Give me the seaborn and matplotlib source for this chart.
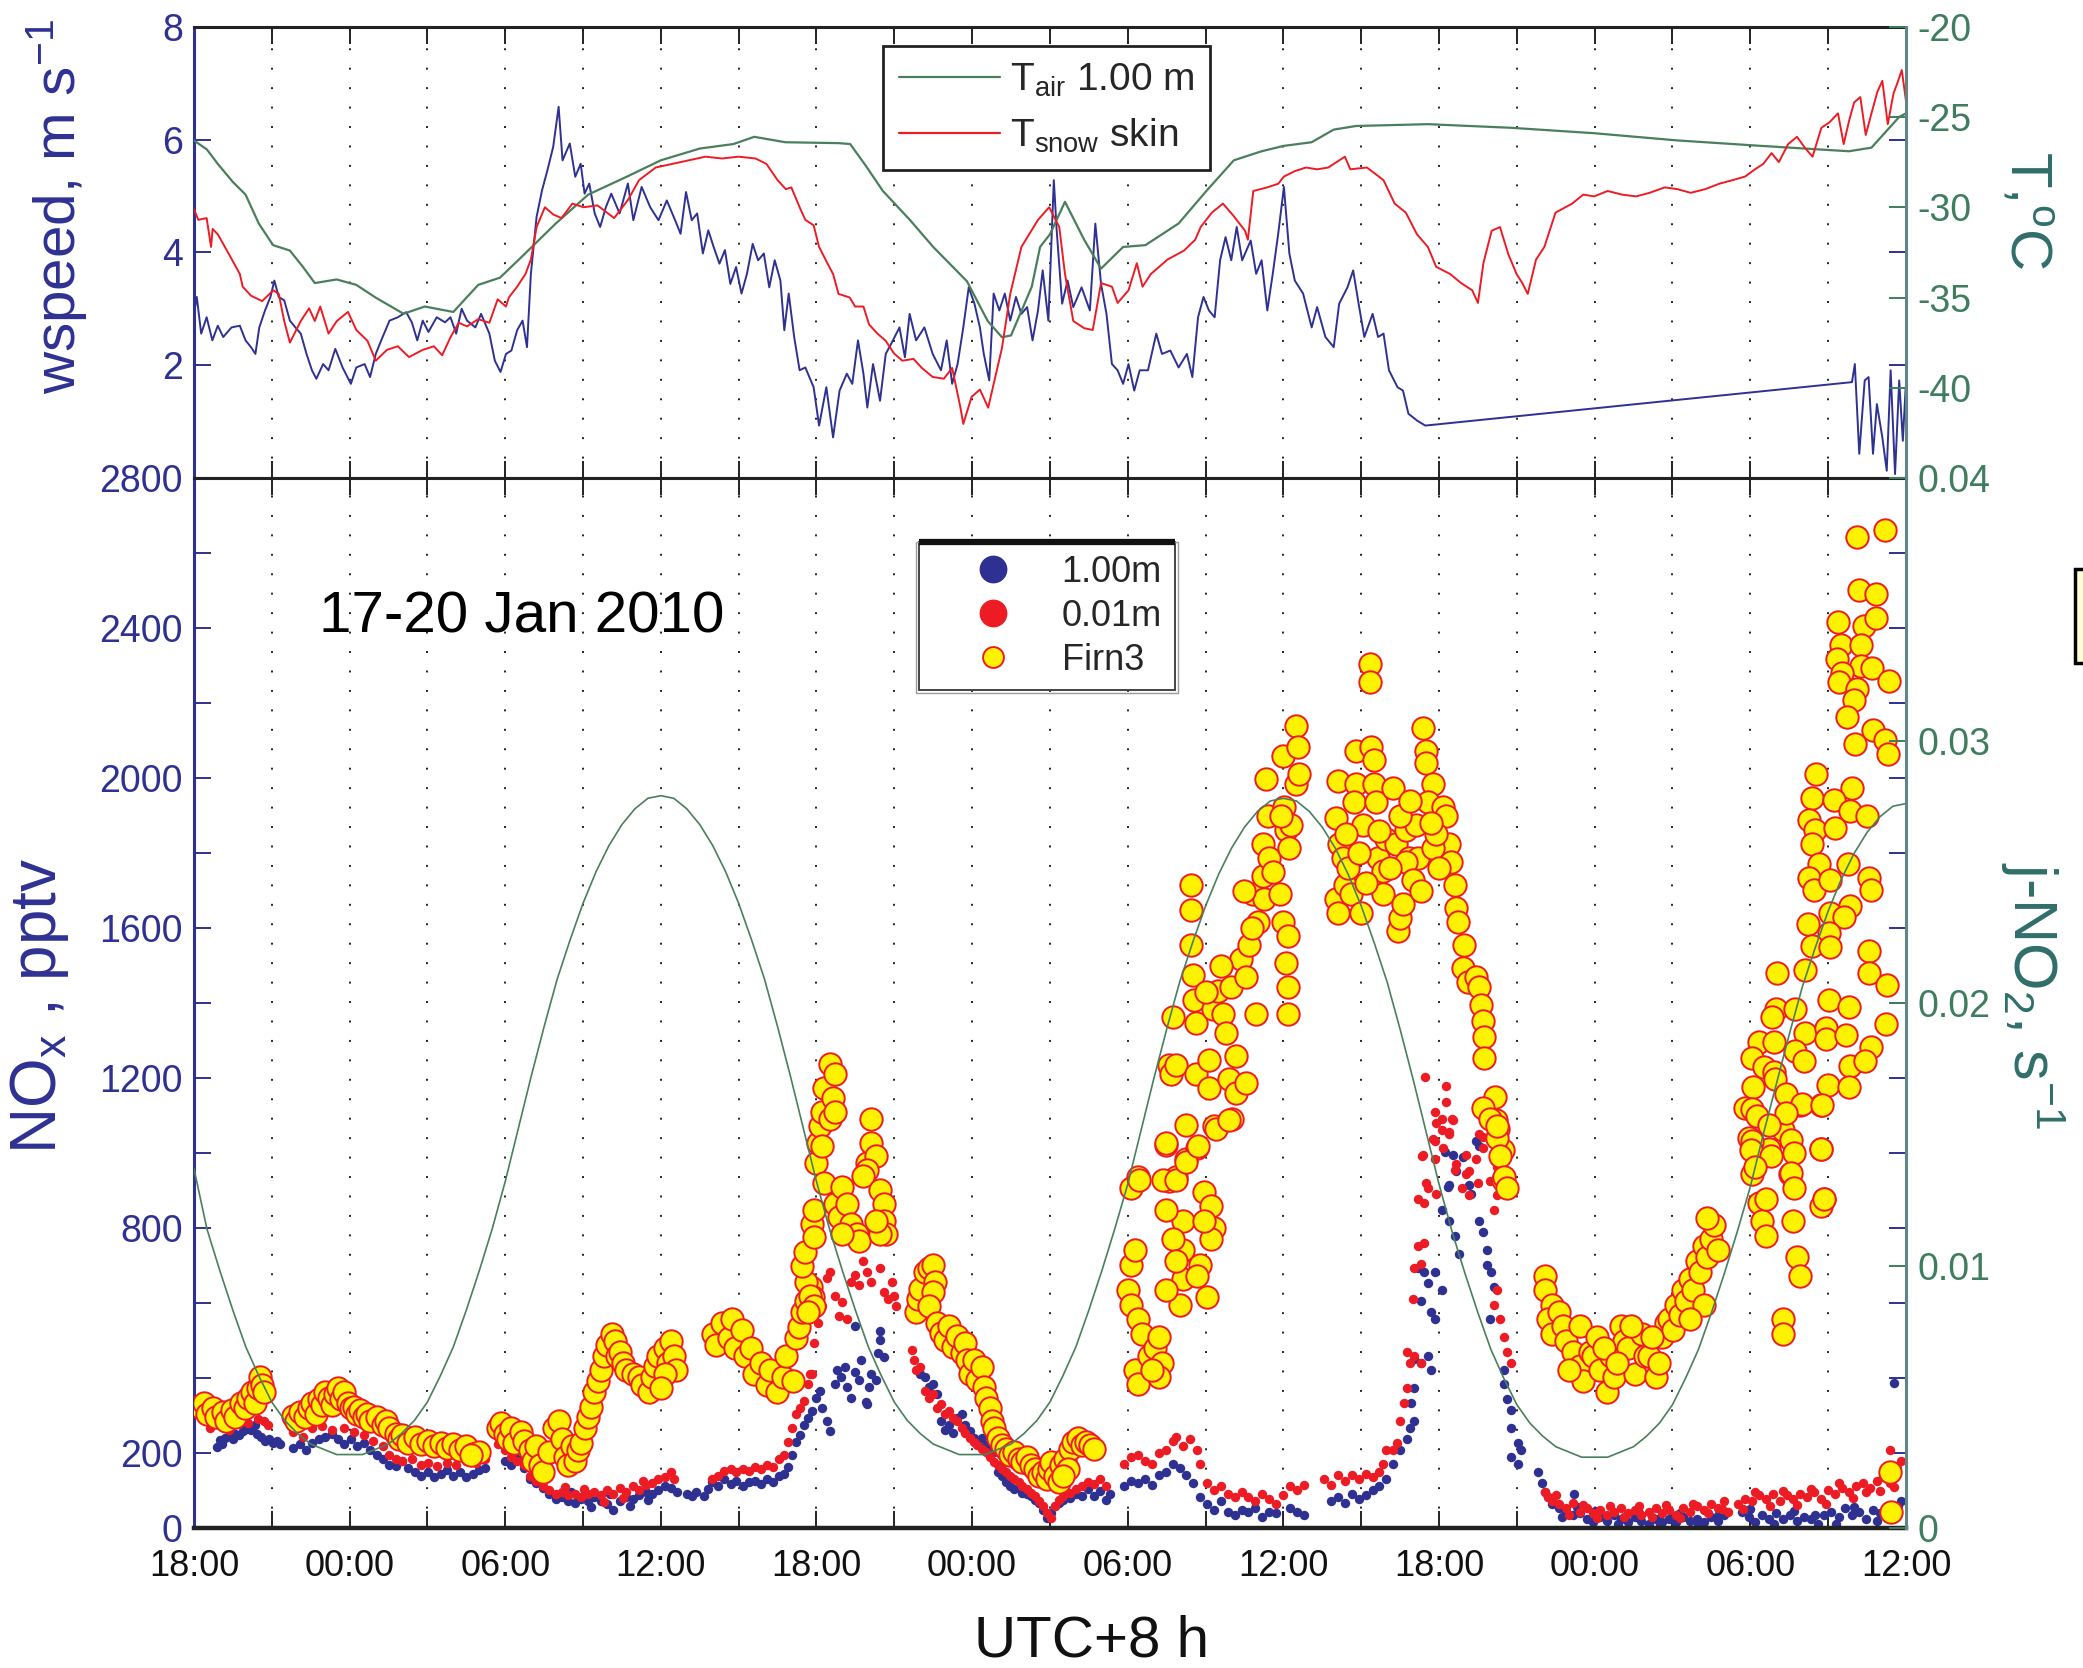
import matplotlib
matplotlib.use("Agg")
import matplotlib.pyplot as plt
import seaborn as sns
from matplotlib.lines import Line2D
from matplotlib.patches import Rectangle

# Time axis: hours after 17 Jan 2010 18:00 (UTC+8)

# ---------------- upper panel ----------------
# wind speed at 1 m, m/s
wind_pts = [
    (0.0, 2.91), (0.11, 3.21), (0.28, 2.56), (0.49, 2.85), (0.71, 2.44), (0.92, 2.70), (1.13, 2.50),
    (1.45, 2.67), (1.77, 2.70), (1.99, 2.44), (2.2, 2.32), (2.37, 2.20), (2.52, 2.67), (2.74, 2.97),
    (2.95, 3.21), (3.1, 3.50), (3.27, 3.21), (3.48, 3.15), (3.7, 2.79), (3.91, 2.67), (4.12, 2.56),
    (4.34, 2.20), (4.55, 1.91), (4.72, 1.76), (4.98, 2.02), (5.19, 1.91), (5.45, 2.29), (5.73, 1.96),
    (6.05, 1.67), (6.26, 1.96), (6.58, 2.02), (6.79, 1.79), (7.01, 2.20), (7.22, 2.44), (7.54, 2.79),
    (7.86, 2.85), (8.18, 2.94), (8.4, 2.76), (8.61, 2.44), (8.82, 2.79), (9.04, 2.59), (9.36, 2.85),
    (9.68, 2.76), (9.89, 2.85), (10.11, 2.56), (10.32, 3.00), (10.53, 2.79), (10.85, 2.67), (11.07, 2.91),
    (11.39, 2.56), (11.6, 2.08), (11.82, 1.88), (12.03, 2.20), (12.24, 2.26), (12.46, 2.62), (12.67, 2.79),
    (12.84, 2.32), (12.99, 3.62), (13.21, 4.63), (13.42, 5.10), (13.63, 5.46), (13.85, 5.87), (14.06, 6.58),
    (14.21, 5.63), (14.49, 5.93), (14.7, 5.34), (14.91, 5.57), (15.06, 5.04), (15.24, 5.22), (15.45, 4.69),
    (15.66, 4.45), (15.88, 4.80), (16.09, 5.04), (16.41, 4.69), (16.73, 5.22), (16.94, 4.57), (17.26, 5.16),
    (17.59, 4.80), (17.91, 4.57), (18.23, 4.92), (18.55, 4.57), (18.76, 4.33), (18.97, 5.07), (19.19, 4.57),
    (19.4, 4.69), (19.62, 3.98), (19.83, 4.39), (20.04, 4.09), (20.26, 3.80), (20.47, 4.04), (20.68, 3.44),
    (20.9, 3.74), (21.11, 3.27), (21.32, 3.62), (21.54, 4.15), (21.75, 3.86), (21.97, 3.98), (22.18, 3.38),
    (22.39, 3.86), (22.61, 3.50), (22.76, 2.62), (22.93, 3.27), (23.14, 2.50), (23.35, 1.91), (23.57, 1.96),
    (23.89, 1.61), (24.1, 0.93), (24.38, 1.61), (24.64, 0.72), (24.89, 1.55), (25.17, 1.85), (25.38, 1.67),
    (25.6, 2.44), (25.81, 1.85), (25.96, 1.25), (26.18, 2.02), (26.45, 1.37), (26.67, 2.20), (26.88, 2.38),
    (27.2, 2.67), (27.41, 2.14), (27.59, 2.91), (27.84, 2.44), (28.16, 2.67), (28.48, 2.20), (28.8, 1.91),
    (29.02, 2.44), (29.23, 1.67), (29.44, 2.02), (29.66, 2.67), (29.87, 3.38), (30.09, 3.09), (30.3, 2.67),
    (30.45, 2.20), (30.66, 1.73), (30.83, 3.27), (31.05, 2.97), (31.26, 3.27), (31.47, 2.79), (31.69, 3.21),
    (31.9, 2.91), (32.12, 3.03), (32.33, 2.44), (32.54, 2.97), (32.72, 3.68), (32.94, 2.79), (33.15, 5.28),
    (33.26, 4.39), (33.47, 3.09), (33.68, 3.50), (33.9, 3.03), (34.22, 3.38), (34.54, 2.97), (34.75, 4.51),
    (34.97, 3.44), (35.18, 2.91), (35.39, 2.02), (35.61, 1.91), (35.82, 1.67), (36.03, 2.02), (36.25, 1.55),
    (36.46, 1.91), (36.78, 1.91), (37.1, 2.56), (37.32, 2.20), (37.64, 2.26), (37.96, 1.96), (38.28, 2.20),
    (38.49, 1.79), (38.71, 2.85), (38.92, 3.21), (39.13, 2.97), (39.35, 2.85), (39.56, 3.86), (39.77, 4.27),
    (39.99, 3.86), (40.2, 4.45), (40.41, 3.86), (40.74, 4.21), (40.95, 3.62), (41.16, 3.86), (41.38, 2.97),
    (41.59, 3.62), (41.8, 4.33), (42.02, 5.16), (42.23, 3.98), (42.44, 3.50), (42.76, 3.27), (43.09, 2.67),
    (43.3, 3.03), (43.62, 2.50), (43.94, 2.32), (44.15, 3.09), (44.47, 3.38), (44.69, 3.68), (44.9, 3.09),
    (45.12, 2.50), (45.44, 2.91), (45.65, 2.50), (45.86, 2.56), (46.07, 1.91), (46.4, 1.61), (46.61, 1.55),
    (46.82, 1.14), (47.15, 1.02), (47.47, 0.93),
    (63.92, 1.70), (64.03, 2.02), (64.2, 0.43), (64.41, 1.73), (64.56, 1.79), (64.73, 0.43), (64.88, 1.31),
    (65.09, 0.72), (65.26, 0.13), (65.41, 1.91), (65.58, 0.07), (65.74, 1.73), (65.88, 0.66), (65.99, 1.61),
]

# air temperature at 1.00 m, deg C
t_air_pts = [
    (0.0, -26.3), (0.5, -26.8), (0.92, -27.6), (1.5, -28.6), (1.99, -29.3), (2.5, -30.9), (3.05, -32.1),
    (3.7, -32.4), (4.2, -33.3), (4.66, -34.2), (5.5, -34.0), (6.26, -34.3), (7.0, -35.0), (8.08, -35.9),
    (8.9, -35.5), (10.0, -35.8), (10.96, -34.3), (11.8, -33.9), (12.67, -32.7), (13.95, -30.9),
    (15.2, -29.3), (16.7, -28.3), (18.0, -27.4), (19.5, -26.75), (20.8, -26.5), (21.6, -26.1),
    (22.8, -26.4), (24.85, -26.45), (25.3, -26.5), (25.9, -27.7), (26.56, -29.1), (27.6, -30.7),
    (28.5, -32.2), (29.8, -34.1), (30.6, -36.3), (31.15, -37.2), (31.5, -37.1), (32.3, -34.4),
    (32.62, -32.2), (33.0, -31.5), (33.58, -29.7), (34.32, -31.8), (34.97, -33.4), (35.82, -32.2),
    (36.68, -32.1), (37.96, -30.9), (39.03, -29.1), (40.09, -27.4), (41.16, -26.9), (42.02, -26.6),
    (43.09, -26.4), (43.94, -25.7), (44.8, -25.5), (47.57, -25.4), (50.78, -25.6), (53.98, -25.9),
    (57.19, -26.3), (60.4, -26.6), (63.8, -26.9), (64.67, -26.7), (65.74, -25.0), (66.0, -24.8),
]

# snow skin temperature, deg C
t_snow_pts = [
    (0.0, -30.1), (0.17, -30.7), (0.49, -30.6), (0.66, -32.2), (0.72, -31.2), (0.92, -31.5), (1.35, -32.6),
    (1.77, -33.7), (1.88, -34.4), (2.2, -34.9), (2.63, -35.2), (3.06, -34.6), (3.27, -34.8), (3.48, -36.3),
    (3.7, -37.5), (4.12, -36.3), (4.44, -35.6), (4.66, -36.3), (4.87, -35.5), (5.19, -37.0), (5.51, -36.3),
    (5.94, -35.8), (6.26, -36.8), (6.69, -37.4), (7.01, -38.5), (7.44, -37.9), (7.86, -37.7), (8.29, -38.3),
    (8.82, -37.9), (9.25, -37.7), (9.57, -38.2), (9.89, -37.2), (10.21, -36.4), (10.53, -36.6),
    (10.96, -36.2), (11.39, -36.4), (11.71, -35.1), (12.03, -35.5), (12.14, -35.0), (12.46, -34.4),
    (12.78, -33.7), (12.99, -32.9), (13.21, -31.1), (13.53, -30.0), (13.85, -30.4), (14.17, -30.6),
    (14.59, -29.8), (15.02, -30.0), (15.56, -29.9), (16.2, -30.6), (16.73, -29.6), (17.16, -28.5),
    (17.8, -27.8), (18.44, -27.6), (19.08, -27.4), (19.72, -27.2), (20.36, -27.3), (21.0, -27.2),
    (21.65, -27.3), (22.07, -27.6), (22.5, -28.5), (22.82, -29.0), (23.03, -28.9), (23.35, -30.0),
    (23.57, -30.7), (23.89, -31.0), (24.1, -32.2), (24.42, -33.1), (24.64, -33.7), (24.85, -34.8),
    (25.28, -35.0), (25.49, -35.5), (25.81, -35.5), (26.03, -36.5), (26.35, -37.0), (26.67, -37.4),
    (26.99, -38.1), (27.31, -38.5), (27.74, -38.4), (28.06, -38.9), (28.48, -39.4), (28.91, -39.5),
    (29.23, -38.9), (29.55, -41.1), (29.66, -42.0), (29.98, -40.5), (30.3, -40.1), (30.62, -41.1),
    (30.83, -39.8), (31.15, -37.8), (31.47, -34.8), (31.9, -32.2), (32.54, -30.7), (32.97, -30.0),
    (33.36, -31.1), (33.58, -33.7), (33.9, -36.3), (34.32, -36.7), (34.65, -36.8), (34.97, -34.2),
    (35.39, -34.4), (35.61, -35.3), (36.03, -34.6), (36.35, -33.1), (36.57, -34.4), (36.89, -33.7),
    (37.53, -32.9), (38.17, -32.4), (38.6, -31.8), (38.81, -31.1), (39.24, -30.3), (39.67, -29.8),
    (40.09, -30.5), (40.52, -31.3), (40.63, -31.8), (40.84, -29.1), (41.38, -28.9), (41.8, -28.7),
    (42.02, -28.3), (42.44, -28.0), (42.87, -27.8), (43.3, -27.9), (43.73, -27.8), (44.37, -27.2),
    (44.58, -27.9), (45.22, -27.8), (45.86, -28.5), (46.29, -29.8), (46.72, -30.3), (47.15, -31.5),
    (47.57, -32.2), (47.89, -33.3), (48.43, -33.7), (48.85, -34.2), (49.28, -34.6), (49.5, -35.3),
    (49.71, -33.1), (50.03, -31.3), (50.35, -31.1), (50.67, -32.6), (50.99, -33.7), (51.21, -34.2),
    (51.42, -34.8), (51.74, -32.9), (52.06, -32.2), (52.49, -30.3), (53.13, -29.8), (53.56, -29.3),
    (53.98, -29.4), (54.5, -29.1), (55.05, -29.3), (55.6, -29.4), (56.12, -29.2), (56.7, -28.9),
    (57.19, -29.0), (57.7, -29.2), (58.26, -29.0), (58.8, -28.7), (59.32, -28.5), (59.8, -28.3),
    (60.18, -27.9), (60.5, -27.6), (60.82, -27.0), (61.1, -27.5), (61.46, -26.5), (61.8, -26.1),
    (62.1, -26.7), (62.4, -27.2), (62.74, -25.6), (63.05, -25.3), (63.38, -24.8), (63.6, -26.5),
    (63.81, -25.2), (64.0, -24.2), (64.24, -23.9), (64.45, -26.0), (64.67, -24.8), (64.9, -23.6),
    (65.09, -23.0), (65.3, -25.4), (65.52, -23.7), (65.7, -23.0), (65.84, -22.4), (66.0, -24.1),
]

# ---------------- lower panel ----------------
# NOx at 1.00 m inlet, pptv
nox_1m_pts = [
    (0.9, 215), (1.0, 235), (1.1, 225), (1.2, 240), (1.35, 245), (1.5, 238), (1.6, 250), (1.75, 248),
    (1.9, 258), (2.0, 265), (2.1, 272), (2.2, 262), (2.35, 276), (2.45, 250), (2.6, 242), (2.75, 232),
    (2.9, 238), (3.05, 228), (3.2, 232), (3.3, 225),
    (3.83, 213), (4.07, 223), (4.32, 208), (4.57, 227), (4.81, 237), (5.06, 242), (5.31, 252), (5.56, 237),
    (5.8, 223), (6.05, 237), (6.3, 218), (6.54, 228), (6.79, 208), (7.04, 194), (7.28, 184), (7.53, 169),
    (7.78, 165), (8.02, 179), (8.27, 160), (8.52, 150), (8.77, 140), (9.01, 150), (9.26, 136), (9.51, 145),
    (9.75, 155), (10.0, 140), (10.25, 150), (10.49, 136), (10.74, 145), (10.99, 155), (11.23, 160),
    (11.98, 179), (12.22, 169), (12.47, 184), (12.72, 160), (12.96, 131), (13.2, 121), (13.46, 106),
    (13.7, 92), (13.95, 77), (14.2, 82), (14.44, 73), (14.55, 95), (14.69, 68), (14.94, 77), (15.19, 73),
    (15.3, 55), (15.43, 82), (15.68, 73), (15.93, 63), (16.05, 90), (16.17, 48), (16.42, 73), (16.67, 82),
    (16.8, 60), (16.91, 77), (17.16, 87), (17.41, 97), (17.5, 75), (17.65, 92), (17.9, 102), (18.15, 111),
    (18.4, 106), (18.64, 97), (19.0, 92), (19.2, 85), (19.35, 95),
    (19.66, 85), (19.8, 103), (19.98, 122), (20.2, 113), (20.45, 131), (20.7, 117), (20.9, 126),
    (21.16, 113), (21.4, 122), (21.63, 126), (21.87, 117), (22.1, 131), (22.34, 122), (22.57, 140),
    (22.73, 144), (22.9, 162), (23.05, 194), (23.2, 230), (23.36, 249), (23.5, 276), (23.68, 294),
    (23.83, 312), (24.0, 348), (24.15, 366), (24.23, 321), (24.4, 285), (24.54, 258), (24.7, 385),
    (24.78, 421), (24.94, 403), (25.1, 430), (25.17, 376), (25.33, 348), (25.49, 416), (25.65, 394),
    (25.72, 448), (25.9, 335), (26.04, 376), (26.1, 412), (26.28, 394), (26.43, 525), (26.43, 502),
    (26.6, 457), (26.36, 466), (25.49, 539), (25.96, 330),
    (28.0, 412), (28.17, 403), (28.32, 376), (28.48, 385), (28.64, 357), (28.8, 285), (28.95, 262),
    (29.1, 276), (29.27, 253), (29.43, 294), (29.6, 303), (29.74, 276), (29.9, 258), (30.06, 240),
    (30.2, 230), (30.37, 240), (30.53, 221), (30.69, 212), (30.84, 203), (31.0, 149), (31.16, 140),
    (31.31, 122), (31.47, 113), (31.63, 103), (31.79, 108), (31.94, 94), (32.1, 90), (32.26, 85),
    (32.42, 76), (32.57, 67), (32.73, 49), (32.9, 26), (33.05, 40), (33.2, 58), (33.36, 67), (33.5, 76),
    (33.76, 81), (34.0, 90), (34.23, 85), (34.46, 103), (34.7, 85), (34.94, 99), (35.17, 76), (35.33, 90),
    (35.87, 111), (36.13, 126), (36.4, 121), (36.66, 131), (36.93, 116), (37.2, 141), (37.46, 150),
    (37.73, 170), (38.0, 160), (38.26, 141), (38.53, 121), (38.8, 82), (39.06, 63), (39.32, 48),
    (39.6, 73), (39.86, 44), (40.12, 34), (40.4, 48), (40.65, 44), (40.92, 53), (41.19, 29), (41.45, 44),
    (41.72, 39), (42.25, 53), (42.52, 44), (42.78, 34), (43.85, 73), (44.11, 82), (44.38, 68),
    (44.64, 92), (44.9, 77), (45.17, 87), (45.44, 102), (45.7, 111), (45.97, 131), (46.24, 170),
    (46.5, 208), (46.77, 237), (46.9, 266), (47.04, 286),
    (47.04, 450), (47.3, 441), (47.57, 460), (47.7, 421), (46.93, 334), (47.04, 373), (47.17, 693),
    (47.43, 683), (47.57, 654), (47.83, 683), (48.1, 635), (47.3, 606), (47.7, 577), (47.83, 557),
    (48.23, 1003), (48.37, 916), (48.1, 848), (48.37, 819), (48.63, 780), (48.77, 732), (49.43, 1032),
    (49.16, 916), (49.56, 819), (49.7, 790), (49.83, 741), (49.83, 702), (50.0, 683), (50.1, 644),
    (49.96, 557), (50.5, 421), (50.5, 383), (50.63, 344), (50.76, 315), (50.76, 266), (51.03, 228),
    (51.16, 208), (51.03, 170), (50.76, 189), (48.53, 995), (49.56, 1020), (48.34, 909), (48.66, 952),
    (48.92, 989), (49.24, 890),
    (51.82, 150), (51.96, 121), (52.1, 97), (52.22, 82), (52.36, 63), (52.62, 53), (52.75, 30),
    (52.9, 44), (53.15, 34), (53.2, 92), (53.3, 55), (53.42, 39), (53.69, 24), (53.95, 15), (54.0, 45),
    (54.22, 29), (54.48, 19), (54.75, 34), (54.9, 10), (55.0, 24), (55.28, 15), (55.55, 29), (55.7, 40),
    (55.8, 19), (56.08, 10), (56.35, 24), (56.5, 8), (56.6, 15), (56.88, 24), (57.14, 15), (57.3, 40),
    (57.4, 29), (57.68, 19), (57.94, 24), (58.0, 8), (58.2, 15), (58.47, 29), (58.74, 19), (58.8, 38),
    (59.0, 34),
    (59.67, 44), (59.94, 29), (60.0, 50), (60.2, 15), (60.47, 34), (60.73, 24), (60.9, 12), (61.0, 39),
    (61.27, 24), (61.53, 34), (61.7, 45), (61.8, 19), (62.06, 29), (62.33, 24), (62.5, 35), (62.6, 10),
    (62.86, 34), (63.13, 44), (63.3, 12), (63.4, 29), (63.66, 53), (63.93, 34), (64.0, 55), (64.2, 44),
    (64.47, 24), (64.73, 48), (64.9, 20), (65.0, 39), (65.26, 58), (65.53, 44), (65.7, 60), (65.8, 73),
    (65.53, 388),
]

# NOx at 0.01 m inlet, pptv
nox_001m_pts = [
    (0.62, 266), (0.99, 276), (1.36, 261), (1.73, 286), (2.1, 281), (2.47, 290), (2.72, 286), (2.84, 276),
    (3.83, 257), (4.2, 242), (4.57, 266), (4.94, 271), (5.31, 261), (5.8, 266), (6.17, 257), (6.54, 247),
    (6.91, 232), (7.28, 218), (7.53, 194), (7.78, 184), (8.02, 179), (8.4, 184), (8.77, 169), (9.01, 174),
    (9.38, 165), (9.75, 174), (10.12, 169), (10.49, 179), (10.86, 174), (11.23, 184),
    (11.73, 223), (11.98, 208), (12.22, 189), (12.47, 179), (12.72, 169), (12.96, 140), (13.2, 126),
    (13.46, 111), (13.7, 102), (13.95, 92), (14.2, 97), (14.3, 110), (14.44, 87), (14.69, 92), (14.94, 82),
    (15.05, 105), (15.19, 92), (15.43, 97), (15.68, 87), (15.8, 70), (15.93, 102), (16.17, 92),
    (16.42, 106), (16.55, 80), (16.67, 97), (16.91, 111), (17.16, 102), (17.3, 125), (17.41, 116),
    (17.65, 121), (17.9, 131), (18.15, 136), (18.4, 150), (18.52, 131),
    (19.98, 131), (20.2, 140), (20.45, 153), (20.7, 158), (20.9, 149), (21.16, 158), (21.4, 153),
    (21.63, 162), (21.87, 158), (22.1, 167), (22.34, 162), (22.57, 185), (22.73, 194), (22.9, 230),
    (23.05, 267), (23.2, 303), (23.36, 321), (23.5, 339), (23.68, 385), (23.76, 412), (23.83, 412),
    (23.9, 493), (24.07, 548), (24.23, 593), (24.4, 666), (24.54, 684), (24.7, 620), (24.86, 566),
    (25.0, 602), (25.17, 557), (25.33, 656), (25.5, 675), (25.65, 648), (25.8, 711), (25.96, 684),
    (26.12, 656), (26.43, 693), (26.6, 629), (26.75, 611), (26.9, 656), (27.06, 593), (27.0, 620),
    (27.7, 475), (27.77, 448), (27.85, 421), (28.0, 430), (28.17, 366), (28.32, 348), (28.48, 357),
    (28.64, 321), (28.8, 330), (28.95, 303), (29.1, 312), (29.27, 294), (29.43, 285), (29.6, 267),
    (29.74, 253), (29.9, 240), (30.06, 230), (30.2, 221), (30.37, 212), (30.53, 203), (30.69, 190),
    (30.84, 176), (31.0, 167), (31.16, 158), (31.31, 149), (31.47, 140), (31.63, 131), (31.79, 122),
    (31.94, 113), (32.1, 103), (32.26, 94), (32.42, 85), (32.57, 72), (32.73, 58), (32.9, 40), (33.05, 26),
    (33.2, 58), (33.36, 76), (33.5, 85), (33.76, 94), (34.0, 103), (34.23, 113), (34.46, 122), (34.7, 117),
    (34.94, 131), (35.17, 113),
    (35.87, 170), (36.13, 189), (36.4, 194), (36.66, 179), (36.93, 170), (37.2, 199), (37.46, 208),
    (37.73, 232), (37.86, 242), (38.13, 218), (38.4, 237), (38.66, 208), (38.8, 170), (39.06, 121),
    (39.32, 102), (39.6, 111), (39.86, 92), (40.12, 82), (40.4, 97), (40.65, 82), (40.92, 73), (41.19, 92),
    (41.45, 77), (41.72, 63), (41.98, 87), (42.25, 111), (42.52, 102), (42.78, 116), (43.58, 131),
    (43.85, 116), (44.11, 141), (44.38, 126), (44.64, 141), (44.9, 131), (45.17, 145), (45.44, 136),
    (45.7, 150), (45.84, 170), (45.97, 208), (46.24, 208), (46.37, 228), (46.5, 286), (46.64, 334),
    (46.77, 373),
    (46.77, 470), (47.04, 460), (46.9, 441), (47.3, 441), (47.04, 693), (47.3, 703), (47.17, 751),
    (47.43, 761), (46.98, 610), (47.43, 867), (47.17, 877), (47.57, 906), (47.36, 993), (47.83, 984),
    (47.83, 1032), (48.1, 1061), (48.37, 1051), (48.1, 1090), (48.5, 1090), (47.83, 1110), (48.63, 954),
    (48.9, 906), (49.03, 945), (49.16, 887), (49.43, 984), (49.7, 1013), (49.7, 1042), (49.83, 1119),
    (49.96, 1139), (50.23, 964), (49.96, 925), (50.23, 887), (50.1, 848), (50.23, 635), (50.1, 596),
    (50.36, 557), (50.5, 509), (50.63, 470), (50.76, 441), (47.44, 1204), (48.27, 1180), (48.27, 1137),
    (47.89, 1081), (48.53, 1087), (48.4, 1057), (47.76, 1038), (48.15, 1013), (47.38, 995), (49.05, 995),
    (49.56, 1050), (47.5, 921), (48.66, 970), (49.17, 952), (49.5, 921), (47.89, 890),
    (52.1, 97), (52.22, 82), (52.36, 73), (52.5, 88), (52.62, 63), (52.9, 53), (53.0, 35), (53.15, 68),
    (53.42, 44), (53.55, 62), (53.69, 53), (53.95, 39), (54.1, 28), (54.22, 48), (54.48, 34), (54.6, 58),
    (54.75, 44), (55.0, 53), (55.15, 30), (55.28, 39), (55.55, 48), (55.7, 60), (55.8, 34), (56.08, 44),
    (56.2, 30), (56.35, 53), (56.6, 39), (56.75, 62), (56.88, 48), (57.14, 34), (57.3, 28), (57.4, 53),
    (57.68, 44), (57.8, 65), (57.94, 58), (58.2, 48), (58.35, 40), (58.47, 63), (58.74, 53), (58.9, 50),
    (59.0, 73), (59.14, 44),
    (59.54, 63), (59.7, 50), (59.8, 77), (60.07, 73), (60.2, 95), (60.34, 87), (60.6, 77), (60.75, 60),
    (60.87, 92), (61.13, 73), (61.25, 100), (61.4, 87), (61.66, 77), (61.8, 62), (61.93, 92), (62.2, 82),
    (62.35, 105), (62.46, 97), (62.73, 77), (62.9, 65), (63.0, 102), (63.26, 92), (63.4, 120),
    (63.53, 106), (63.8, 97), (63.95, 80), (64.06, 111), (64.33, 121), (64.45, 95), (64.6, 106),
    (64.87, 126), (65.0, 100), (65.13, 136), (65.4, 121), (65.55, 110), (65.66, 160), (65.8, 179),
    (65.4, 208),
]

# NOx in firn air (Firn3 inlet), pptv
firn3_pts = [
    (0.25, 324), (0.37, 334), (0.49, 305), (0.74, 319), (0.86, 295), (1.11, 310), (1.23, 286), (1.48, 315),
    (1.6, 295), (1.8, 334), (1.98, 319), (2.1, 348), (2.22, 363), (2.35, 334), (2.47, 373), (2.54, 402),
    (2.64, 382), (2.72, 363),
    (3.83, 300), (3.95, 286), (4.07, 310), (4.27, 295), (4.44, 319), (4.57, 334), (4.69, 305), (4.81, 344),
    (4.94, 329), (5.06, 363), (5.19, 348), (5.31, 329), (5.43, 358), (5.56, 373), (5.68, 344), (5.8, 363),
    (5.93, 334), (6.05, 319), (6.17, 324), (6.3, 305), (6.42, 315), (6.54, 295), (6.67, 305), (6.79, 286),
    (7.04, 295), (7.28, 276), (7.41, 286), (7.53, 266), (7.78, 252), (7.9, 237), (8.02, 247), (8.27, 228),
    (8.52, 242), (8.77, 223), (9.01, 232), (9.26, 218), (9.51, 228), (9.75, 213), (10.0, 223),
    (10.25, 208), (10.49, 218), (10.74, 198), (10.99, 203), (10.67, 194),
    (11.73, 266), (11.85, 281), (11.98, 252), (12.1, 237), (12.22, 266), (12.35, 228), (12.59, 257),
    (12.72, 232), (12.96, 208), (13.09, 179), (13.2, 218), (13.33, 169), (13.46, 150), (13.7, 203),
    (13.9, 266), (14.07, 286), (14.2, 237), (14.32, 189), (14.44, 169), (14.57, 218), (14.69, 179),
    (14.81, 208), (14.94, 228), (15.06, 266), (15.19, 295), (15.31, 324), (15.43, 363), (15.56, 392),
    (15.68, 421), (15.8, 460), (15.93, 489), (16.12, 518), (16.22, 499), (16.3, 460), (16.42, 470),
    (16.54, 441), (16.67, 421), (16.91, 411), (17.16, 402), (17.28, 382), (17.53, 363), (17.65, 402),
    (17.78, 431), (17.9, 460), (18.15, 480), (18.27, 441), (18.4, 499), (18.52, 460), (18.6, 421),
    (18.15, 411), (18.02, 373),
    (20.0, 518), (20.12, 489), (20.37, 547), (20.62, 508), (20.74, 557), (20.86, 479), (21.11, 528),
    (21.23, 460), (21.48, 479), (21.6, 411), (21.85, 441), (22.1, 382), (22.22, 421), (22.47, 363),
    (22.72, 402), (22.84, 460), (23.09, 392), (23.21, 508), (23.33, 537), (23.46, 576), (23.58, 605),
    (23.78, 644), (23.88, 615), (23.6, 656), (23.76, 620), (23.9, 593), (23.68, 575), (23.45, 700),
    (23.55, 735), (23.83, 811), (23.9, 847), (23.9, 775), (24.0, 974), (24.07, 1028), (24.15, 1073),
    (24.23, 1110), (24.3, 1173), (24.54, 1237), (24.7, 1210), (24.62, 1146), (24.54, 1092), (24.7, 1110),
    (24.23, 1019), (24.3, 919), (24.7, 865), (24.86, 829), (25.0, 910), (25.17, 865), (25.33, 811),
    (25.57, 784), (25.65, 765), (25.0, 784), (25.96, 974), (26.12, 1028), (26.12, 1092), (26.28, 992),
    (25.96, 956), (25.8, 938), (26.43, 901), (26.6, 865), (26.6, 820), (26.67, 784), (26.43, 784),
    (26.28, 820),
    (27.85, 575), (27.93, 611), (28.0, 638), (28.17, 684), (28.32, 693), (28.48, 702), (28.56, 657),
    (28.48, 629), (28.32, 593), (28.64, 548), (28.8, 521), (28.95, 502), (29.1, 539), (29.27, 484),
    (29.43, 511), (29.6, 466), (29.74, 493), (29.82, 448), (29.9, 412), (30.06, 448), (30.2, 394),
    (30.37, 430), (30.45, 376), (30.53, 348), (30.69, 321), (30.77, 285), (30.84, 267), (31.0, 240),
    (31.16, 221), (31.31, 212), (31.47, 194), (31.63, 203), (31.79, 185), (31.94, 176), (32.1, 190),
    (32.26, 167), (32.42, 158), (32.57, 140), (32.73, 149), (32.9, 131), (32.97, 158), (33.05, 176),
    (33.2, 140), (33.36, 122), (33.44, 167), (33.6, 185), (33.76, 212), (33.9, 230), (34.07, 240),
    (34.23, 221), (34.4, 230), (34.54, 221), (34.7, 212), (33.68, 158), (33.52, 140),
    (36.0, 635), (36.13, 596), (36.13, 702), (36.27, 741), (36.4, 557), (36.53, 518), (36.27, 421),
    (36.4, 383), (36.8, 460), (37.06, 480), (37.2, 509), (37.33, 441), (37.2, 402), (36.93, 421),
    (36.13, 906), (36.4, 935), (37.46, 1022), (37.6, 925), (37.86, 935), (38.13, 819), (38.26, 984),
    (38.66, 1013), (38.93, 896), (39.2, 858), (39.32, 800), (38.13, 741), (38.13, 664), (38.8, 702),
    (39.06, 615), (38.0, 596), (38.66, 673), (39.32, 1071), (40.0, 1090), (37.46, 848), (37.73, 770),
    (37.86, 712), (37.46, 635), (39.2, 770), (38.93, 819),
    (36.45, 928), (37.35, 928), (37.86, 928), (37.48, 1026), (38.25, 1075), (38.25, 976), (38.7, 1020),
    (37.6, 1235), (37.67, 1210), (37.86, 1235), (38.63, 1210), (37.74, 1364), (38.44, 1715),
    (38.44, 1647), (38.44, 1555), (38.5, 1475), (38.57, 1407), (38.63, 1346), (39.15, 1247),
    (39.15, 1173), (39.28, 1383), (39.4, 1063), (39.47, 1432), (39.66, 1370), (39.8, 1321), (39.92, 1198),
    (39.92, 1087), (39.98, 1444), (40.18, 1260), (40.18, 1161), (40.37, 1518), (40.56, 1186),
    (40.56, 1469), (40.69, 1555), (40.82, 1690), (40.95, 1370), (41.01, 1616), (41.2, 1825), (41.2, 1739),
    (41.27, 1678), (41.33, 1998), (41.4, 1899), (41.46, 1788), (41.85, 1690), (41.98, 1616),
    (42.17, 1579), (41.98, 2059), (42.04, 1924), (42.1, 1862), (42.1, 1506), (42.17, 1444), (42.17, 1370),
    (42.23, 1813), (42.3, 1874), (42.49, 2139), (42.56, 2084), (42.49, 1985), (42.62, 2010),
    (39.0, 1430), (39.6, 1500), (40.5, 1700), (40.8, 1600), (41.6, 1750), (41.9, 1900),
    (44.1, 1991), (44.03, 1893), (44.16, 1825), (44.03, 1678), (44.1, 1641), (44.29, 1788), (44.36, 1715),
    (44.8, 2071), (44.8, 1985), (44.74, 1936), (44.61, 1690), (45.06, 1874), (45.32, 2305), (45.32, 2256),
    (45.38, 2084), (45.51, 2047), (45.51, 1985), (45.58, 1936), (45.64, 1788), (45.83, 1752),
    (45.83, 1690), (45.96, 1838), (46.22, 1973), (46.35, 1825), (46.41, 1592), (46.48, 1628),
    (46.6, 1665), (46.73, 1862), (46.86, 1788), (47.12, 1874), (47.18, 1788), (47.38, 2133), (47.5, 2071),
    (47.5, 2040), (47.76, 1985), (47.57, 1936), (48.15, 1924), (48.27, 1899), (48.4, 1825), (48.47, 1776),
    (48.6, 1715), (48.66, 1653), (48.72, 1616), (48.98, 1555), (48.92, 1493), (49.1, 1456), (49.43, 1469),
    (49.56, 1444), (49.62, 1395), (49.69, 1352), (49.75, 1309), (49.75, 1253), (50.14, 1149),
    (50.2, 1087), (50.27, 1063), (50.46, 1007), (50.46, 928), (46.73, 1776), (47.76, 1813), (46.99, 1727),
    (47.89, 1850), (49.7, 1119), (49.96, 1090), (50.23, 1041), (50.36, 993), (50.5, 935), (50.63, 906),
    (50.23, 1071), (44.5, 1760), (44.9, 1800), (45.2, 1720), (45.7, 1860), (46.1, 1760), (46.5, 1900),
    (46.9, 1940), (47.3, 1700), (47.7, 1880), (48.0, 1760), (45.0, 1640), (44.4, 1850),
    (52.09, 673), (52.09, 635), (52.36, 596), (52.22, 557), (52.36, 518), (52.62, 577), (52.76, 538),
    (52.89, 499), (53.15, 470), (53.42, 538), (53.42, 431), (53.55, 392), (53.82, 470), (53.95, 460),
    (54.22, 421), (54.48, 363), (54.62, 460), (54.75, 402), (55.02, 538), (55.15, 499), (55.28, 480),
    (55.55, 412), (55.81, 518), (55.95, 460), (56.08, 460), (56.35, 402), (56.48, 441), (56.61, 509),
    (56.74, 547), (56.88, 557), (57.01, 528), (57.14, 596), (57.28, 567), (57.41, 635), (57.54, 606),
    (57.68, 664), (57.81, 635), (57.94, 712), (58.07, 683), (58.21, 751), (58.34, 722), (58.47, 770),
    (58.6, 809), (58.34, 828), (58.74, 741), (58.21, 596), (57.68, 557), (54.09, 509), (53.02, 421),
    (54.35, 480), (54.88, 441), (55.41, 538), (56.21, 509),
    (59.8, 1119), (59.94, 1041), (60.07, 1012), (60.07, 945), (60.34, 867), (60.47, 819), (60.6, 780),
    (60.73, 1012), (61.27, 1061), (61.53, 945), (61.66, 819), (61.8, 722), (61.93, 673), (61.27, 557),
    (61.27, 518), (61.93, 1129), (62.73, 1129), (62.73, 1012), (62.86, 877), (62.73, 858), (65.39, 150),
    (65.44, 44),
    (64.12, 2643), (65.2, 2662), (64.18, 2502), (64.85, 2490), (63.38, 2416), (64.37, 2406), (64.85, 2428),
    (63.51, 2354), (64.28, 2354), (63.35, 2317), (64.28, 2299), (64.69, 2293), (65.33, 2260),
    (63.54, 2280), (63.41, 2256), (64.12, 2237), (63.99, 2207), (63.73, 2163), (64.03, 2090),
    (64.73, 2127), (65.2, 2102), (65.3, 2065), (62.55, 2010), (63.92, 1973), (62.36, 1946), (63.22, 1942),
    (63.86, 1911), (64.5, 1899), (62.25, 1887), (62.51, 1862), (63.28, 1868), (62.36, 1825), (62.64, 1770),
    (63.77, 1770), (62.25, 1733), (62.45, 1702), (63.09, 1727), (64.56, 1733), (64.65, 1702),
    (63.86, 1659), (63.09, 1641), (63.6, 1629), (62.23, 1610), (63.02, 1586), (62.38, 1552),
    (63.09, 1549), (64.59, 1539), (64.56, 1481), (65.27, 1448), (61.03, 1481), (62.09, 1487),
    (63.02, 1407), (63.79, 1389), (65.25, 1343), (61.0, 1383), (61.74, 1383), (60.84, 1364),
    (60.33, 1296), (60.91, 1296), (62.09, 1321), (62.92, 1333), (62.92, 1303), (63.67, 1315),
    (64.67, 1284), (60.07, 1253), (60.52, 1229), (61.74, 1272), (62.06, 1245), (63.86, 1231),
    (64.44, 1245), (60.91, 1216), (60.97, 1198), (60.11, 1176), (63.0, 1182), (63.82, 1176),
    (61.36, 1157), (60.05, 1118), (62.0, 1130), (62.77, 1128), (60.26, 1100), (61.36, 1106), (60.71, 1075),
    (60.07, 1032), (61.55, 1036), (62.74, 1011), (60.01, 1007), (60.78, 991), (61.68, 999), (60.2, 964),
    (61.55, 946), (61.68, 906), (60.59, 878), (62.83, 878),
]

# NO2 photolysis frequency, 1/s, every half hour from 18:00 on 17 Jan
jno2 = [
    0.0137, 0.0114, 0.0098, 0.0083, 0.0069, 0.0058, 0.0048, 0.0041, 0.0036, 0.0032, 0.0030, 0.0028, 0.0028,
    0.0028, 0.0030, 0.0032, 0.0036, 0.0041, 0.0048, 0.0058, 0.0069, 0.0083, 0.0098, 0.0114, 0.0132,
    0.0152, 0.0172, 0.0191, 0.0209, 0.0224, 0.0238, 0.0250, 0.0260, 0.0268, 0.0274, 0.0278, 0.0279,
    0.0278, 0.0274, 0.0268, 0.0260, 0.0250, 0.0238, 0.0224, 0.0209, 0.0191, 0.0172, 0.0152, 0.0132,
    0.0114, 0.0098, 0.0083, 0.0069, 0.0058, 0.0048, 0.0041, 0.0036, 0.0032, 0.0030, 0.0028, 0.0028,
    0.0028, 0.0030, 0.0032, 0.0036, 0.0041, 0.0048, 0.0058, 0.0069, 0.0083, 0.0098, 0.0114, 0.0131,
    0.0151, 0.0171, 0.0190, 0.0208, 0.0223, 0.0237, 0.0249, 0.0259, 0.0267, 0.0273, 0.0277, 0.0278,
    0.0277, 0.0273, 0.0267, 0.0259, 0.0249, 0.0237, 0.0223, 0.0208, 0.0190, 0.0171, 0.0151, 0.0131,
    0.0113, 0.0097, 0.0082, 0.0068, 0.0057, 0.0047, 0.0040, 0.0035, 0.0031, 0.0029, 0.0027, 0.0027,
    0.0027, 0.0029, 0.0031, 0.0035, 0.0040, 0.0047, 0.0057, 0.0068, 0.0082, 0.0097, 0.0113, 0.0130,
    0.0150, 0.0169, 0.0188, 0.0206, 0.0221, 0.0235, 0.0247, 0.0257, 0.0265, 0.0271, 0.0275, 0.0276,
]
jno2_h = [0.5 * i for i in range(len(jno2))]

x_ticks = list(range(0, 67, 3))
x_ticklabels = [("%02d:00" % ((18 + h) % 24)) if h % 6 == 0 else "" for h in x_ticks]
nox_ticks = list(range(0, 2801, 200))
nox_ticklabels = ["0", "200", "", "", "800", "", "1200", "", "1600", "", "2000", "", "2400", "", "2800"]

# ---------------- styling ----------------
BLUE = "#2E3192"
RED = "#ED1C24"
YELLOW = "#FFF200"
GREEN_LINE = "#4A7F5C"
GREEN_TXT = "#3F7D5E"
TEAL_LBL = "#2F6E6A"
RSPINE = "#5F8585"

sns.set_style("ticks")
plt.rcParams["font.family"] = ["Liberation Sans", "DejaVu Sans"]
plt.rcParams["mathtext.fontset"] = "custom"
plt.rcParams["mathtext.rm"] = "Liberation Sans"
plt.rcParams["mathtext.it"] = "Liberation Sans:italic"
plt.rcParams["mathtext.bf"] = "Liberation Sans:bold"

fig = plt.figure(figsize=(20.83, 16.68), dpi=100)
L, W = 0.0931, 0.8219
ax1 = fig.add_axes([L, 0.7134, W, 0.2706])
ax2 = fig.add_axes([L, 0.0839, W, 0.6295])
ax1r = ax1.twinx()
ax2r = ax2.twinx()


def unzip(pts):
    return [p[0] for p in pts], [p[1] for p in pts]


# upper panel lines
wh, wv = unzip(wind_pts)
sns.lineplot(x=wh, y=wv, ax=ax1, color=BLUE, linewidth=1.4, estimator=None, sort=False, legend=False)
th, tv = unzip(t_air_pts)
sns.lineplot(x=th, y=tv, ax=ax1r, color=GREEN_LINE, linewidth=1.6, estimator=None, sort=True, legend=False)
sh, sv = unzip(t_snow_pts)
sns.lineplot(x=sh, y=sv, ax=ax1r, color=RED, linewidth=1.4, estimator=None, sort=True, legend=False)

# lower panel scatter
bh, bv = unzip(nox_1m_pts)
sns.scatterplot(x=bh, y=bv, ax=ax2, color=BLUE, s=46, linewidth=0, legend=False, zorder=2)
rh, rv = unzip(nox_001m_pts)
sns.scatterplot(x=rh, y=rv, ax=ax2, color=RED, s=46, linewidth=0, legend=False, zorder=3)
fh, fv = unzip(firn3_pts)
sns.scatterplot(x=fh, y=fv, ax=ax2, color=YELLOW, edgecolor=RED, s=260, linewidth=1.4,
                legend=False, zorder=4)
sns.lineplot(x=jno2_h, y=jno2, ax=ax2r, color=GREEN_LINE, linewidth=1.2, estimator=None, legend=False)

# axes limits and ticks
for ax in (ax1, ax2, ax1r, ax2r):
    ax.set_xlim(0, 66)
    ax.set_xlabel("")
    ax.set_ylabel("")
ax1.set_ylim(0, 8)
ax1r.set_ylim(-45, -20)
ax2.set_ylim(0, 2800)
ax2r.set_ylim(0, 0.04)

for ax in (ax1, ax2):
    ax.set_xticks(x_ticks)
    ax.grid(True, axis="x", linestyle=(0, (1, 9)), color="#222222", linewidth=1.4)
    ax.grid(False, axis="y")
    ax.set_axisbelow(True)
ax1.set_xticklabels([])
ax2.set_xticklabels(x_ticklabels)

ax1.set_yticks([0, 2, 4, 6, 8])
ax1.set_yticklabels(["", "2", "4", "6", "8"])
ax1r.set_yticks([-45, -40, -35, -30, -25, -20])
ax1r.set_yticklabels(["", "-40", "-35", "-30", "-25", "-20"])
ax2.set_yticks(nox_ticks)
ax2.set_yticklabels(nox_ticklabels)
ax2r.set_yticks([0, 0.01, 0.02, 0.03, 0.04])
ax2r.set_yticklabels(["0", "0.01", "0.02", "0.03", "0.04"])

TL = 12
ax1.tick_params(axis="x", direction="in", length=TL, width=1.4, top=True, bottom=True,
                labelbottom=False, color="#222222")
ax2.tick_params(axis="x", direction="in", length=TL, width=1.4, top=True, bottom=True,
                labelsize=26, pad=15, color="#222222", labelcolor="#111111")
for ax in (ax1, ax2):
    ax.tick_params(axis="y", direction="in", length=TL, width=1.4, left=True, right=True,
                   colors=BLUE, labelsize=27, pad=8)
for ax in (ax1r, ax2r):
    ax.tick_params(axis="y", direction="in", length=TL, width=1.4, right=True, left=False,
                   colors=GREEN_TXT, labelsize=27, pad=8)

# spines
for ax in (ax1, ax2):
    ax.spines["left"].set_color(BLUE)
    ax.spines["left"].set_linewidth(2.2)
    ax.spines["right"].set_visible(False)
    ax.spines["top"].set_color("#222222")
    ax.spines["top"].set_linewidth(2.2)
    ax.spines["bottom"].set_color("#222222")
    ax.spines["bottom"].set_linewidth(2.2)
ax2.spines["bottom"].set_linewidth(3.2)
for ax in (ax1r, ax2r):
    for side in ("left", "top", "bottom"):
        ax.spines[side].set_visible(False)
    ax.spines["right"].set_color(RSPINE)
    ax.spines["right"].set_linewidth(2.2)

# axis titles
fig.text(0.027, 0.876, r"wspeed, m s$^{-1}$", rotation=90, ha="center", va="center",
         fontsize=42, color=BLUE)
fig.text(0.019, 0.397, r"NO$_{\mathrm{x}}$ , pptv", rotation=90, ha="center", va="center",
         fontsize=46, color=BLUE)
fig.text(0.9726, 0.874, r"T,$^{\mathrm{o}}$C", rotation=-90, ha="center", va="center",
         fontsize=42, color=TEAL_LBL)
fig.text(0.9755, 0.403, r"j-NO$_{2}$, s$^{-1}$", rotation=-90, ha="center", va="center",
         fontsize=44, color=TEAL_LBL)
fig.text(0.524, 0.016, "UTC+8 h", ha="center", va="center", fontsize=42, color="#111111")
fig.text(0.153, 0.6295, "17-20 Jan 2010", ha="left", va="center", fontsize=42, color="black")

# legends
h_top = [Line2D([], [], color=GREEN_LINE, linewidth=1.6), Line2D([], [], color=RED, linewidth=1.6)]
leg1 = ax1r.legend(h_top, [r"T$_{\mathrm{air}}$ 1.00 m", r"T$_{\mathrm{snow}}$ skin"],
                   loc="upper left", bbox_to_anchor=(0.424, 0.9724), bbox_transform=fig.transFigure,
                   fontsize=28, frameon=True, fancybox=False, framealpha=1, edgecolor="#222222",
                   handlelength=2.6, handletextpad=0.25, borderpad=0.4, labelspacing=0.45,
                   borderaxespad=0)
leg1.get_frame().set_linewidth(2.0)

h_bot = [
    Line2D([], [], linestyle="", marker="o", markersize=19, markerfacecolor=BLUE, markeredgecolor=BLUE),
    Line2D([], [], linestyle="", marker="o", markersize=19, markerfacecolor=RED, markeredgecolor=RED),
    Line2D([], [], linestyle="", marker="o", markersize=15, markerfacecolor=YELLOW, markeredgecolor=RED,
           markeredgewidth=1.4),
]
leg2 = ax2r.legend(h_bot, ["1.00m", "0.01m", "Firn3"], loc="upper left",
                   bbox_to_anchor=(0.4412, 0.675), bbox_transform=fig.transFigure,
                   fontsize=26, frameon=True, fancybox=False, framealpha=1, edgecolor="#444444",
                   handlelength=3.4, handletextpad=0.2, borderpad=0.35, labelspacing=0.25,
                   borderaxespad=0)
leg2.get_frame().set_linewidth(1.4)

# partially visible inset frame at the right edge
fig.add_artist(Rectangle((2075 / 2083, 1 - 663 / 1668), 0.02, (663 - 569) / 1668,
                         transform=fig.transFigure, facecolor="#FFFFD6", edgecolor="black",
                         linewidth=2.5))

# heavier upper edge and outer rule for the lower legend frame
fig.canvas.draw()
bb = leg2.get_frame().get_window_extent().transformed(fig.transFigure.inverted())
fig.add_artist(Line2D([bb.x0, bb.x1], [bb.y1, bb.y1], transform=fig.transFigure,
                      color="#111111", linewidth=4.5, solid_capstyle="butt"))
pad_x, pad_y = 3 / 2083, 3 / 1668
fig.add_artist(Rectangle((bb.x0 - pad_x, bb.y0 - pad_y), bb.width + 2 * pad_x, bb.height + pad_y,
                         transform=fig.transFigure, facecolor="none", edgecolor="#9A9A9A",
                         linewidth=1.0))

fig.savefig("out.png", dpi=100)
